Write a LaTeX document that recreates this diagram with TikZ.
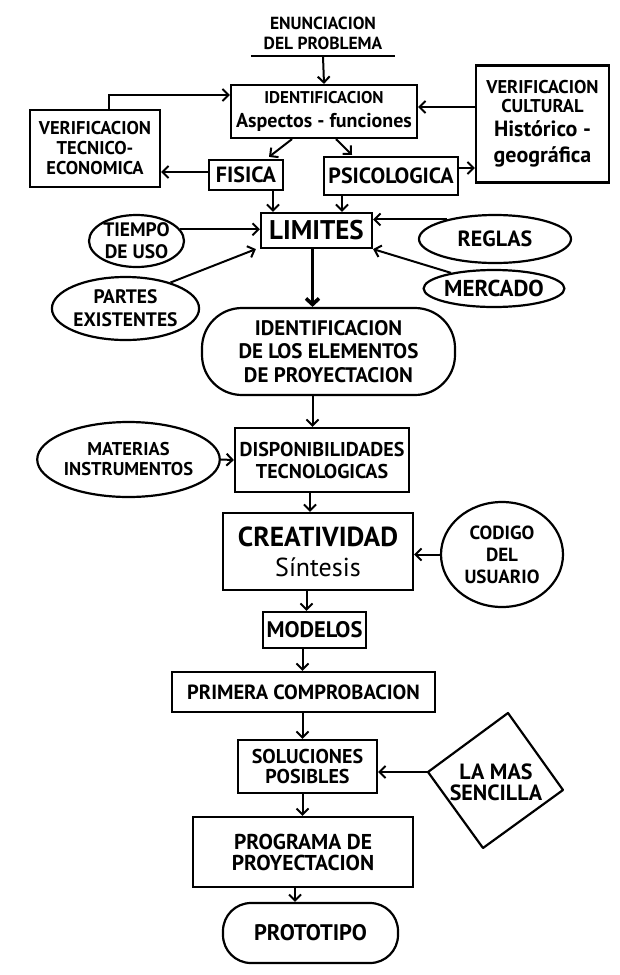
\documentclass[tikz,border=0pt]{standalone}
\usepackage{fontspec}
\setmainfont{PT Sans}
\usetikzlibrary{arrows.meta,shapes.geometric,calc}
\newcommand\fz[2]{\fontsize{#1}{#2}\selectfont}
\newcommand\fb[2]{\bfseries\fontsize{#1}{#2}\selectfont}
\begin{document}
\begin{tikzpicture}[x=1pt,y=-1pt,
  box/.style={draw, line width=2.2pt, rectangle, inner sep=0pt, align=center},
  oval/.style={draw, line width=2.2pt, ellipse, inner sep=0pt, align=center},
  stadium/.style={draw, line width=2.2pt, rectangle, inner sep=0pt, align=center},
  arr/.style={line width=2pt, -{Straight Barb[length=6pt,width=12pt]}},
  bigarr/.style={line width=3.6pt, -{Straight Barb[length=6pt,width=13pt]}},
  ]
\fill[white] (0,0) rectangle (619,975);
\useasboundingbox (0,0) rectangle (619,975);

% top
\node[align=center, inner sep=0pt, minimum width=144pt, minimum height=46pt, font=\fb{17.5}{20}] (enun) at (323,33) {ENUNCIACION\\DEL PROBLEMA};
\draw[line width=2.2pt] (enun.south west) -- (enun.south east);

\node[box, minimum width=186pt, minimum height=53pt, font=\fb{17}{24}] (ident) at (324,111.5) {IDENTIFICACION\\{\fz{20}{24}Aspectos - funciones}};
\node[box, minimum width=130pt, minimum height=77pt, font=\fb{18.5}{20}] (vte) at (95,148.5) {VERIFICACION\\TECNICO-\\ECONOMICA};
\node[box, minimum width=133pt, minimum height=117pt, font=\fb{18.5}{19}] (vc) at (542.5,124) {VERIFICACION\\CULTURAL\\[5pt]{\fz{22}{27}Histórico -}\\[7pt]{\fz{22}{27}geográfica}};
\node[box, minimum width=74pt, minimum height=30pt, font=\fb{22}{22}] (fisica) at (246,175) {FISICA};
\node[box, minimum width=134pt, minimum height=38pt, font=\fb{22}{22}] (psico) at (391,176) {PSICOLOGICA};
\node[box, minimum width=111pt, minimum height=35pt, font=\fb{27}{28}] (limites) at (316.5,230.5) {LIMITES};

\node[oval, minimum width=95pt, minimum height=52pt, font=\fb{19.5}{22}] (tiempo) at (136.5,241) {TIEMPO\\DE USO};
\node[oval, minimum width=152pt, minimum height=48pt, font=\fb{22}{22}] (reglas) at (495,239) {REGLAS};
\node[oval, minimum width=110pt, minimum height=37pt, font=\fb{23}{22}] (mercado) at (494,288.5) {MERCADO};
\node[oval, minimum width=121pt, minimum height=63pt, font=\fb{19.5}{23}] (partes) at (125.5,308.5) {PARTES\\EXISTENTES};

\node[stadium, rounded corners=40pt, minimum width=253pt, minimum height=87pt, font=\fb{21}{23.5}] (idel) at (328.5,351.5) {IDENTIFICACION\\DE LOS ELEMENTOS\\DE PROYECTACION};

\node[oval, minimum width=159pt, minimum height=75pt, font=\fb{18.5}{20}] (mat) at (128.5,459.5) {MATERIAS\\INSTRUMENTOS};
\node[box, minimum width=174pt, minimum height=64pt, font=\fb{20}{22}] (disp) at (322,460) {DISPONIBILIDADES\\TECNOLOGICAS};

\node[box, minimum width=190pt, minimum height=77pt, font=\fb{27.5}{30}] (creat) at (318,551.5) {CREATIVIDAD\\{\mdseries\fz{26}{30}Síntesis}};
\node[oval, minimum width=122pt, minimum height=105pt, font=\fb{19}{22}] (codigo) at (502,554.5) {CODIGO\\DEL\\USUARIO};

\node[box, minimum width=103pt, minimum height=36pt, font=\fb{22.5}{24}] (modelos) at (314.5,630) {MODELOS};
\node[box, minimum width=263pt, minimum height=40pt, font=\fb{20.5}{20}] (primera) at (303.5,692) {PRIMERA COMPROBACION};
\node[box, minimum width=139pt, minimum height=53pt, font=\fb{20}{20}] (sol) at (307.5,766.5) {SOLUCIONES\\POSIBLES};

\coordinate (dtop) at (508,713);
\coordinate (dright) at (563,790);
\coordinate (dbottom) at (483,848);
\coordinate (dleft) at (428,772);
\draw[line width=2.2pt, line join=round] (dtop) -- (dright) -- (dbottom) -- (dleft) -- cycle;
\node[align=center, inner sep=0pt, font=\fb{22}{21}] (mas) at (496,782) {LA MAS\\SENCILLA};

\node[box, minimum width=220pt, minimum height=70pt, font=\fb{21.5}{21}] (prog) at (303,852) {PROGRAMA DE\\PROYECTACION};
\node[stadium, rounded corners=28pt, minimum width=175pt, minimum height=60pt, font=\fb{22.5}{24}] (proto) at (310.5,933) {PROTOTIPO};

% connectors
\draw[arr] (enun.south) -- (ident.north);
\draw[arr] ([xshift=14pt]vte.north) |- ([yshift=16.5pt]ident.west);
\draw[arr] ([yshift=17pt]vc.west) -- ([yshift=4.5pt]ident.east);
\draw[arr] ([xshift=-32pt]ident.south) -- ([xshift=23pt,yshift=2pt]fisica.north);
\draw[arr] ([xshift=12pt]ident.south) -- ([xshift=-39pt,yshift=1pt]psico.north);
\draw[arr] ([yshift=3pt]fisica.west) -- ([yshift=3pt]fisica.west -| vte.east);
\draw[arr] ([yshift=8pt]psico.east) -- ([yshift=8pt]psico.east -| vc.west);
\draw[arr] ([xshift=27pt]fisica.south) -- ([xshift=27pt]fisica.south |- limites.north);
\draw[arr] ([xshift=-49pt]psico.south) -- ([xshift=-49pt]psico.south |- limites.north);
\draw[arr] (tiempo.15) -- (tiempo.15 -| limites.west);
\draw[arr] (reglas.158) -- (reglas.158 -| limites.east);
\draw[arr] (mercado.160) -- (limites.south east);
\draw[arr] (partes.30) -- ([xshift=-4pt]limites.south west);
\draw[bigarr] ([xshift=-4pt]limites.south) -- ([xshift=-4pt]limites.south |- idel.north);
\draw[arr] ([xshift=-16pt]idel.south) -- ([xshift=-16pt]idel.south |- disp.north);
\draw[arr] (mat.east) -- (disp.west);
\draw[arr] ([xshift=-12pt]disp.south) -- ([xshift=-12pt]disp.south |- creat.north);
\draw[arr] (codigo.west) -- (codigo.west -| creat.east);
\draw[arr] ([xshift=-8pt]modelos.north |- creat.south) -- ([xshift=-8pt]modelos.north);
\draw[arr] ([xshift=-12pt]modelos.south) -- ([xshift=-12pt]modelos.south |- primera.north);
\draw[arr] ([xshift=-1pt]primera.south) -- ([xshift=-1pt]primera.south |- sol.north);
\draw[arr] (dleft) -- (dleft -| sol.east);
\draw[arr] ([xshift=-5pt]sol.south) -- ([xshift=-5pt]sol.south |- prog.north);
\draw[arr] ([xshift=-8pt]prog.south) -- ([xshift=-8pt]prog.south |- proto.north);
\end{tikzpicture}
\end{document}
